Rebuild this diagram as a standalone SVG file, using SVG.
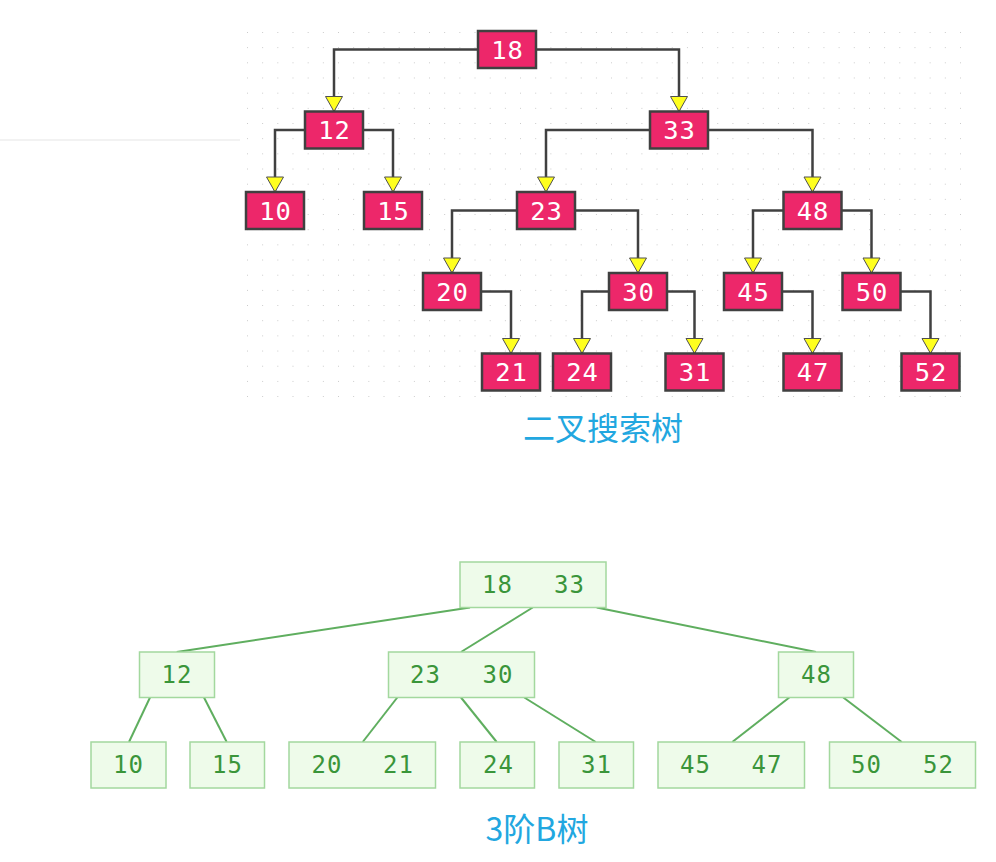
<svg xmlns="http://www.w3.org/2000/svg" width="996" height="862" viewBox="0 0 996 862">
<style>
.bst rect{fill:#ED276A;stroke:#404040;stroke-width:2.5}
.bst text{fill:#fff;font-family:"DejaVu Sans Mono","Liberation Mono",monospace;font-size:25.5px;text-anchor:middle;letter-spacing:1px}
.bc path{fill:none;stroke:#404040;stroke-width:2.5;marker-end:url(#arr)}
.bt rect{fill:#EEFBEA;stroke:#A3D89E;stroke-width:1.5}
.bt text{fill:#3A953A;font-family:"DejaVu Sans Mono","Liberation Mono",monospace;font-size:24px;text-anchor:middle;letter-spacing:1px}
.btc line{stroke:#5FAE5F;stroke-width:2}
.title{fill:#22A7E0;font-family:"Noto Sans CJK SC","Noto Sans",sans-serif;font-size:32px;text-anchor:middle}
</style>
<defs>
<pattern id="dots" x="247" y="32" width="15.17" height="15.17" patternUnits="userSpaceOnUse">
<rect x="-0.8" y="-0.8" width="1.7" height="1.7" fill="#C2C2C2"/>
</pattern>
<marker id="arr" markerUnits="userSpaceOnUse" viewBox="-1 -1 17 19" markerWidth="17" markerHeight="19" refX="15" refY="8.5" orient="auto">
<path d="M0,0 L15,8.5 L0,17 Z" fill="#FFFF1E" stroke="#505050" stroke-width="1"/>
</marker>
</defs>
<rect width="996" height="862" fill="#fff"/>
<line x1="0" y1="140" x2="240" y2="140" stroke="#F2F2F2" stroke-width="2"/>
<rect x="244" y="29" width="718" height="370" fill="url(#dots)"/>

<g id="bst-connectors" class="bc">
<path d="M478,49.5 H334 V111.5"/>
<path d="M536,49.5 H679 V111.5"/>
<path d="M305,130 H275 V192"/>
<path d="M363,130 H393 V192"/>
<path d="M650,130 H546 V192"/>
<path d="M708,130 H812.5 V192"/>
<path d="M517,210.5 H452 V273"/>
<path d="M575,210.5 H638 V273"/>
<path d="M783.5,210.5 H753 V273"/>
<path d="M841.5,210.5 H871.5 V273"/>
<path d="M481,291.5 H511 V353.5"/>
<path d="M609,291.5 H582 V353.5"/>
<path d="M667,291.5 H694.5 V353.5"/>
<path d="M782,291.5 H812.5 V353.5"/>
<path d="M900.5,291.5 H930.5 V353.5"/>
</g>

<g class="bst">
<g id="n18"><rect x="478" y="31" width="58" height="37"/><text x="507.5" y="58.5">18</text></g>
<g id="n12"><rect x="305" y="111.5" width="58" height="37"/><text x="334.5" y="139">12</text></g>
<g id="n33"><rect x="650" y="111.5" width="58" height="37"/><text x="679.5" y="139">33</text></g>
<g id="n10"><rect x="246" y="192" width="58" height="37"/><text x="275.5" y="219.5">10</text></g>
<g id="n15"><rect x="364" y="192" width="58" height="37"/><text x="393.5" y="219.5">15</text></g>
<g id="n23"><rect x="517" y="192" width="58" height="37"/><text x="546.5" y="219.5">23</text></g>
<g id="n48"><rect x="783.5" y="192" width="58" height="37"/><text x="813" y="219.5">48</text></g>
<g id="n20"><rect x="423" y="273" width="58" height="37"/><text x="452.5" y="300.5">20</text></g>
<g id="n30"><rect x="609" y="273" width="58" height="37"/><text x="638.5" y="300.5">30</text></g>
<g id="n45"><rect x="724" y="273" width="58" height="37"/><text x="753.5" y="300.5">45</text></g>
<g id="n50"><rect x="842.5" y="273" width="58" height="37"/><text x="872" y="300.5">50</text></g>
<g id="n21"><rect x="482" y="353.5" width="58" height="37"/><text x="511.5" y="381">21</text></g>
<g id="n24"><rect x="553" y="353.5" width="58" height="37"/><text x="582.5" y="381">24</text></g>
<g id="n31"><rect x="665.5" y="353.5" width="58" height="37"/><text x="695" y="381">31</text></g>
<g id="n47"><rect x="783.5" y="353.5" width="58" height="37"/><text x="813" y="381">47</text></g>
<g id="n52"><rect x="901.5" y="353.5" width="58" height="37"/><text x="931" y="381">52</text></g>
</g>

<text class="title" x="603" y="440">二叉搜索树</text>

<g id="btree-connectors" class="btc">
<line x1="470" y1="607.5" x2="176.7" y2="652"/>
<line x1="532.7" y1="607.5" x2="461" y2="652"/>
<line x1="596.7" y1="607.5" x2="816" y2="652"/>
<line x1="150" y1="697.5" x2="129" y2="742"/>
<line x1="204" y1="697.5" x2="226.7" y2="742"/>
<line x1="397.3" y1="697.5" x2="362.7" y2="742"/>
<line x1="461" y1="697.5" x2="496.7" y2="742"/>
<line x1="524.3" y1="697.5" x2="595.7" y2="742"/>
<line x1="789.3" y1="697.5" x2="732.3" y2="742"/>
<line x1="843.3" y1="697.5" x2="901.7" y2="742"/>
</g>

<g class="bt">
<g id="b-root"><rect x="460" y="562" width="146" height="45.5"/><text x="497.5" y="593">18</text><text x="569.5" y="593">33</text></g>
<g id="b-12"><rect x="139.5" y="652" width="75" height="45.5"/><text x="177" y="683">12</text></g>
<g id="b-23-30"><rect x="388.5" y="652" width="146" height="45.5"/><text x="425.5" y="683">23</text><text x="498" y="683">30</text></g>
<g id="b-48"><rect x="778.5" y="652" width="75" height="45.5"/><text x="816.5" y="683">48</text></g>
<g id="b-10"><rect x="91" y="742" width="75" height="46"/><text x="128.5" y="773">10</text></g>
<g id="b-15"><rect x="190" y="742" width="74.5" height="46"/><text x="227.5" y="773">15</text></g>
<g id="b-20-21"><rect x="289" y="742" width="146.5" height="46"/><text x="327" y="773">20</text><text x="398.5" y="773">21</text></g>
<g id="b-24"><rect x="460" y="742" width="74.5" height="46"/><text x="498.5" y="773">24</text></g>
<g id="b-31"><rect x="559" y="742" width="74.5" height="46"/><text x="596.5" y="773">31</text></g>
<g id="b-45-47"><rect x="658" y="742" width="146.5" height="46"/><text x="695.5" y="773">45</text><text x="767" y="773">47</text></g>
<g id="b-50-52"><rect x="829.5" y="742" width="146" height="46"/><text x="866.5" y="773">50</text><text x="938.5" y="773">52</text></g>
</g>

<text class="title" x="537" y="841">3阶B树</text>
</svg>
